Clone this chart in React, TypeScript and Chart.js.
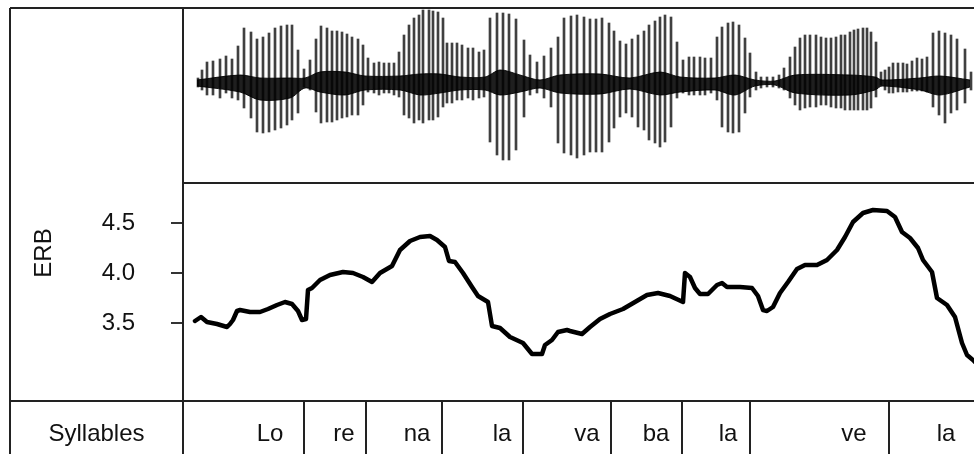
import React, { useEffect, useRef } from 'react';
import { Chart, registerables } from 'chart.js';

Chart.register(...registerables);

// ---------- data (time axis in frames, 0 = start of the panel) ----------
const pulseTime = [15,19,24,30,37,43,49,55,61,68,74,80,86,92,98,104,109,115,121,127,133,138,144,149,154,159,164,169,175,180,185,191,196,201,206,211,216,221,226,231,236,240,246,250,255,260,264,269,274,279,285,290,296,301,307,314,320,326,333,341,347,354,361,368,375,381,388,394,401,407,413,419,426,431,437,443,449,455,461,466,472,477,482,488,494,500,506,511,517,522,528,534,539,545,550,556,562,567,573,578,584,590,596,601,607,612,617,622,627,633,638,643,648,653,658,662,667,671,675,680,684,688,693,698,702,706,710,715,720,724,729,734,739,744,750,756,762,768,774,782,788];
const pulseHigh = [5,13,21,22,24,27,24,37,55,51,44,46,50,55,57,58,58,33,14,23,44,57,55,52,52,51,49,46,44,38,25,20,21,20,20,20,31,48,58,65,68,73,73,72,71,65,40,40,40,38,35,35,31,33,65,70,70,69,64,43,28,21,27,35,46,65,67,68,66,64,64,65,60,52,42,39,44,48,52,58,62,66,68,66,41,23,26,26,26,25,25,46,56,60,61,58,45,30,11,6,6,6,8,15,26,36,45,48,48,48,46,45,45,46,48,48,51,53,54,55,55,51,41,11,13,16,20,20,20,19,22,25,24,26,50,52,50,48,44,34,11];
const pulseLow = [-4,-7,-12,-12,-15,-10,-15,-17,-25,-35,-49,-50,-49,-47,-45,-42,-37,-30,-4,-7,-29,-40,-39,-39,-37,-35,-34,-32,-32,-22,-9,-10,-12,-10,-10,-12,-14,-32,-35,-40,-37,-40,-37,-37,-34,-24,-20,-20,-17,-17,-15,-17,-15,-14,-59,-72,-77,-77,-67,-34,-12,-10,-15,-24,-60,-70,-72,-75,-72,-69,-69,-69,-59,-45,-34,-30,-34,-44,-47,-57,-60,-64,-59,-44,-15,-10,-12,-12,-12,-12,-10,-17,-44,-49,-50,-49,-30,-14,-7,-5,-4,-4,-5,-7,-15,-22,-27,-25,-24,-24,-22,-22,-24,-25,-25,-27,-27,-27,-27,-27,-27,-25,-14,-2,-7,-10,-10,-9,-9,-9,-8,-8,-8,-9,-24,-32,-40,-30,-27,-20,-7];

const coreTime = [14,57,77,107,122,137,162,182,217,237,257,277,302,317,337,357,377,417,447,477,497,532,552,572,592,612,667,692,699,737,757,787];
const coreHigh = [3,8,5,5,5,11,11,7,7,9,9,6,6,13,8,3,8,9,5,11,6,5,8,3,2,8,8,6,3,5,7,3];
const coreLow = [-3,-9,-17,-15,-5,-9,-12,-7,-7,-12,-10,-7,-7,-12,-9,-5,-10,-11,-6,-12,-9,-7,-12,-3,-2,-10,-12,-7,-3,-7,-12,-4];

const pitchTime = [12,18,24,34,44,47,50,54,57,67,77,85,94,102,109,115,119,123,125,129,137,147,160,170,180,189,197,209,217,227,237,247,254,262,266,272,280,289,295,305,309,317,327,340,349,359,362,369,375,384,387,395,399,407,417,427,440,452,464,475,487,500,502,507,512,517,525,534,539,544,557,569,575,580,584,590,597,605,614,622,634,644,654,662,670,680,690,704,712,719,727,735,740,749,754,764,772,779,784,790,798];
const pitchErb = [3.52,3.56,3.51,3.49,3.46,3.49,3.53,3.62,3.63,3.61,3.61,3.64,3.68,3.71,3.69,3.62,3.53,3.54,3.83,3.85,3.93,3.98,4.01,4.00,3.96,3.91,4.00,4.07,4.23,4.32,4.36,4.37,4.33,4.26,4.12,4.11,4.00,3.86,3.77,3.71,3.47,3.45,3.36,3.30,3.19,3.19,3.28,3.33,3.41,3.43,3.42,3.40,3.39,3.46,3.54,3.59,3.64,3.71,3.78,3.80,3.77,3.71,4.00,3.96,3.85,3.79,3.79,3.88,3.90,3.86,3.86,3.85,3.77,3.63,3.62,3.66,3.80,3.91,4.04,4.08,4.08,4.13,4.23,4.36,4.51,4.60,4.63,4.62,4.56,4.41,4.35,4.25,4.13,4.01,3.75,3.68,3.56,3.30,3.18,3.13,3.05];

const syllables = ['Lo', 're', 'na', 'la', 'va', 'ba', 'la', 've', 'la'];
const syllableCenters = [87, 161, 234, 319, 404, 473, 545, 671, 763];
const syllableBounds = [0, 121, 183, 259, 340, 428, 499, 567, 706];
const erbTicks = [3.5, 4.0, 4.5];

// ---------- styling ----------
const FONT = '"Liberation Sans", Arial, sans-serif';
const FONT_SIZE = 24;
const TEXT = '#111';
const LINE = '#222';
const W = 974;
const H = 454;
const LABEL_COL = 183;
const ROW_H = 53;
const OUTER_LEFT = 10;
const TOP_PAD = 8;

const zeroPad = (s: any) => {
  s.paddingTop = 0;
  s.paddingBottom = 0;
  s.paddingLeft = 0;
  s.paddingRight = 0;
};

const framePlugin = {
  id: 'frame',
  afterDraw(chart: any) {
    const { ctx, chartArea, scales } = chart;
    const x = scales.x;
    const yP = scales.yPitch;
    ctx.save();
    ctx.strokeStyle = LINE;
    ctx.lineWidth = 2;
    ctx.beginPath();
    // outer top border and panel dividers
    ctx.moveTo(OUTER_LEFT, chartArea.top);
    ctx.lineTo(chartArea.right, chartArea.top);
    ctx.moveTo(chartArea.left, yP.top);
    ctx.lineTo(chartArea.right, yP.top);
    ctx.moveTo(OUTER_LEFT, chartArea.bottom);
    ctx.lineTo(chartArea.right, chartArea.bottom);
    // column dividers
    ctx.moveTo(chartArea.left, chartArea.top);
    ctx.lineTo(chartArea.left, chart.height);
    ctx.moveTo(OUTER_LEFT, chartArea.top);
    ctx.lineTo(OUTER_LEFT, chart.height);
    syllableBounds.slice(1).forEach((b) => {
      const px = Math.round(x.getPixelForValue(b));
      ctx.moveTo(px, chartArea.bottom);
      ctx.lineTo(px, chart.height);
    });
    ctx.stroke();

    ctx.fillStyle = TEXT;
    ctx.font = `${FONT_SIZE}px ${FONT}`;
    ctx.textAlign = 'center';
    ctx.textBaseline = 'middle';
    const rowMid = x.top + 19 + (FONT_SIZE * 1.2) / 2;
    ctx.fillText('Syllables', (OUTER_LEFT + chartArea.left) / 2, rowMid);

    ctx.translate(44, yP.getPixelForValue(4.2));
    ctx.rotate(-Math.PI / 2);
    ctx.fillText('ERB', 0, 0);
    ctx.restore();
  },
};

export default function App() {
  const ref = useRef<HTMLCanvasElement | null>(null);

  useEffect(() => {
    if (!ref.current) return;
    const chart = new Chart(ref.current, {
      type: 'bar',
      data: {
        datasets: [
          {
            type: 'line',
            label: 'ERB',
            data: pitchTime.map((t, i) => ({ x: t, y: pitchErb[i] })),
            xAxisID: 'x',
            yAxisID: 'yPitch',
            borderColor: '#000',
            borderWidth: 4.5,
            pointRadius: 0,
            borderJoinStyle: 'round',
            borderCapStyle: 'round',
            tension: 0,
            fill: false,
            order: 0,
          } as any,
          {
            type: 'line',
            label: 'coreHigh',
            data: coreTime.map((t, i) => ({ x: t, y: coreHigh[i] })),
            xAxisID: 'x',
            yAxisID: 'yWave',
            borderColor: 'rgba(0,0,0,0.88)',
            backgroundColor: 'rgba(0,0,0,0.88)',
            borderWidth: 1,
            pointRadius: 0,
            tension: 0.3,
            fill: '+1',
            order: 1,
          } as any,
          {
            type: 'line',
            label: 'coreLow',
            data: coreTime.map((t, i) => ({ x: t, y: coreLow[i] })),
            xAxisID: 'x',
            yAxisID: 'yWave',
            borderColor: 'rgba(0,0,0,0.88)',
            borderWidth: 1,
            pointRadius: 0,
            tension: 0.3,
            fill: false,
            order: 1,
          } as any,
          {
            type: 'bar',
            label: 'pulses',
            data: pulseTime.map((t, i) => ({ x: t, y: [pulseLow[i], pulseHigh[i]] })),
            xAxisID: 'x',
            yAxisID: 'yWave',
            backgroundColor: 'rgba(0,0,0,0.75)',
            borderWidth: 0,
            barThickness: 2,
            grouped: false,
            order: 2,
          } as any,
        ],
      },
      options: {
        responsive: false,
        animation: false,
        devicePixelRatio: 1,
        layout: { padding: { top: TOP_PAD, left: 0, right: 0, bottom: 0 } },
        plugins: { legend: { display: false }, title: { display: false }, tooltip: { enabled: false } },
        scales: {
          x: {
            type: 'linear',
            position: 'bottom',
            offset: false,
            min: 0,
            max: 791,
            grid: { display: false, drawTicks: false, offset: false },
            border: { display: false },
            afterFit: (s: any) => { s.height = ROW_H; zeroPad(s); },
            afterBuildTicks: (s: any) => { s.ticks = syllableCenters.map((v) => ({ value: v })); },
            ticks: {
              autoSkip: false,
              maxRotation: 0,
              minRotation: 0,
              padding: 19,
              color: TEXT,
              font: { family: FONT, size: FONT_SIZE },
              callback: (_v: any, i: number) => syllables[i],
            },
          },
          yPitch: {
            type: 'linear',
            position: 'left',
            stack: 'panels',
            stackWeight: 218,
            weight: 0,
            min: 2.72,
            max: 4.9,
            border: { display: false },
            grid: { drawOnChartArea: false, drawTicks: true, tickLength: 12, color: '#333', lineWidth: 2 },
            afterFit: (s: any) => { s.width = LABEL_COL; zeroPad(s); },
            afterBuildTicks: (s: any) => { s.ticks = erbTicks.map((v) => ({ value: v })); },
            ticks: {
              padding: 36,
              color: TEXT,
              font: { family: FONT, size: FONT_SIZE },
              callback: (v: any) => Number(v).toFixed(1),
            },
          },
          yWave: {
            type: 'linear',
            position: 'left',
            stack: 'panels',
            stackWeight: 175,
            weight: 1,
            min: -100,
            max: 75,
            border: { display: false },
            grid: { display: false, drawTicks: false },
            ticks: { display: false },
            afterFit: (s: any) => { s.width = LABEL_COL; zeroPad(s); },
          },
        },
      } as any,
      plugins: [framePlugin],
    });
    return () => chart.destroy();
  }, []);

  return (
    <div style={{ position: 'fixed', left: 0, top: 0, width: W, height: H, background: '#fff' }}>
      <canvas ref={ref} width={W} height={H} style={{ display: 'block', width: W, height: H }} />
    </div>
  );
}
